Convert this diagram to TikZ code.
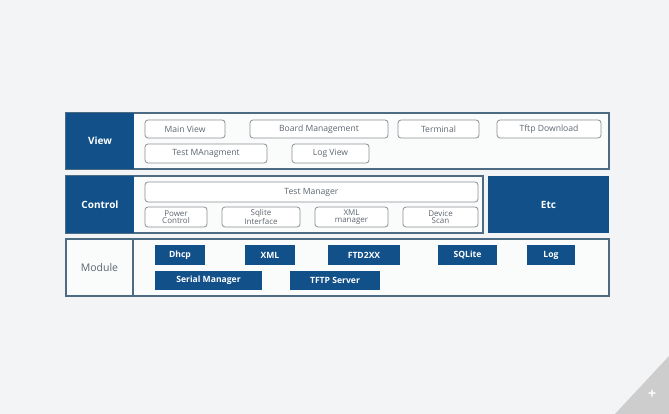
\documentclass[tikz,border=0pt]{standalone}
\usepackage{fontspec}
\setmainfont{Open Sans}
\definecolor{bgc}{HTML}{F3F4F6}
\definecolor{navy}{HTML}{12508A}
\definecolor{frame}{HTML}{4E6B84}
\definecolor{glow}{HTML}{BFE0F2}
\definecolor{graytxt}{HTML}{5E6670}
\definecolor{pill}{HTML}{8A9096}
\definecolor{corner}{HTML}{CDCDCD}
\tikzset{
  base/.style={anchor=north west, inner sep=0pt, outer sep=0pt},
  outerbox/.style={base, draw=frame, line width=1.1pt, fill=white!60!bgc},
  layerlbl/.style={base, fill=navy, text=white, font=\fontsize{10}{11}\selectfont\bfseries},
  modlbl/.style={base, text=graytxt, font=\fontsize{10.5}{11}\selectfont},
  viewbox/.style={base, draw=pill, line width=0.8pt, rounded corners=3pt, fill=white,
     text=graytxt, font=\fontsize{8.6}{7.5}\selectfont, align=center},
  twoline/.style={font=\fontsize{8}{6.8}\selectfont},
  modbox/.style={base, fill=navy, text=white, font=\fontsize{8.6}{9}\selectfont\bfseries},
}
\newcommand\bx[6]{\node[#1, minimum width={(#4-#2)*1pt}, minimum height={(#5-#3)*1pt}] (#6) at (#2,#3)}
\begin{document}
\begin{tikzpicture}[x=1pt,y=-1pt]
\fill[bgc] (0,0) rectangle (669,414);
\useasboundingbox (0,0) rectangle (669,414);
\coordinate (c1) at (615,414);
\coordinate (c2) at (669,356);
\coordinate (c3) at (669,414);
\fill[corner] (c1) -- (c2) -- (c3) -- cycle;
\node[text=white, font=\fontsize{14}{14}\selectfont\bfseries] (plus) at (652,394) {+};

% View layer
\bx{outerbox}{66}{113}{609}{169}{viewouter} {};
\bx{layerlbl}{66}{113}{134}{169}{viewlbl} {View};
\bx{viewbox}{145}{120}{225}{138}{mainview} {Main View};
\bx{viewbox}{250}{120}{388}{138}{boardmgmt} {Board Management};
\bx{viewbox}{398}{120}{479}{138}{terminal} {Terminal};
\bx{viewbox}{497}{120}{601}{138}{tftpdl} {Tftp Download};
\bx{viewbox}{145}{144}{267}{163}{testmgmt} {Test MAnagment};
\bx{viewbox}{292}{144}{369}{163}{logview} {Log View};

% Control layer
\bx{outerbox}{66}{176}{483}{233}{ctrlouter} {};
\bx{layerlbl}{66}{176}{134}{233}{ctrllbl} {Control};
\bx{layerlbl}{488}{176}{609}{233}{etc} {Etc};
\bx{viewbox}{145}{182}{478}{202}{testmgr} {Test Manager};
\bx{viewbox,twoline}{145}{207}{207}{227}{power} {Power\\Control};
\bx{viewbox,twoline}{222}{207}{300}{227}{sqlite} {Sqlite\\Interface};
\bx{viewbox,twoline}{315}{207}{388}{227}{xmlmgr} {XML\\manager};
\bx{viewbox,twoline}{403}{207}{478}{227}{devscan} {Device\\Scan};

% Module layer
\bx{outerbox}{66}{239}{609}{296}{modouter} {};
\coordinate (divtop) at (133,239);
\coordinate (divbot) at (133,296);
\draw[frame, line width=1.1pt] (divtop) -- (divbot);
\bx{modlbl}{66}{239}{133}{296}{modlbl} {Module};
\bx{modbox}{155}{245}{205}{265}{dhcp} {Dhcp};
\bx{modbox}{245}{245}{295}{265}{xml} {XML};
\bx{modbox}{328}{245}{400}{265}{ftd} {FTD2XX};
\bx{modbox}{438}{245}{497}{265}{sqlitem} {SQLite};
\bx{modbox}{527}{245}{575}{265}{log} {Log};
\bx{modbox}{155}{271}{262}{290}{serial} {Serial Manager};
\bx{modbox}{290}{271}{380}{290}{tftp} {TFTP Server};
\end{tikzpicture}
\end{document}
